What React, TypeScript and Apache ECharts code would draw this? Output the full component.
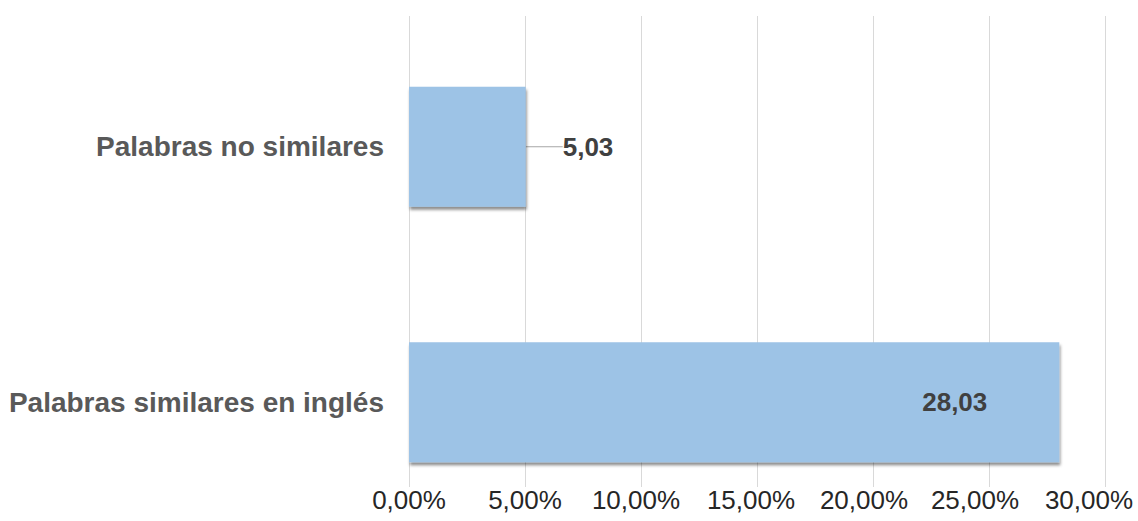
import React, { useEffect, useRef } from "react";
import * as echarts from "echarts";

const categories = ["Palabras no similares", "Palabras similares en inglés"];
const values = [5.03, 28.03];
const axisMin = 0;
const axisMax = 30;
const axisStep = 5;
// Horizontal nudge (px, negative = left) for each tick label along the value axis
const tickLabelShift = [0, 0, -5, -6, -9, -14, -16];

const FONT = "'Liberation Sans', Arial, sans-serif";

const fmtValue = (v: number) => v.toFixed(2).replace(".", ",");
const fmtTick = (v: number) => v.toFixed(2).replace(".", ",") + "%";

export default function App() {
  const ref = useRef<HTMLDivElement | null>(null);

  useEffect(() => {
    if (!ref.current) return;
    const chart = echarts.init(ref.current, null, { renderer: "svg" });

    const barData = values.map((v, i) => {
      if (i === 0) {
        return {
          value: v,
          label: {
            show: true,
            position: "right",
            distance: 4,
            formatter: (p: any) => fmtValue(p.value),
          },
        };
      }
      return {
        value: v,
        label: {
          show: true,
          position: "insideRight",
          distance: 72,
          formatter: (p: any) => fmtValue(p.value),
        },
      };
    });

    const tickText = {
      color: "#262626",
      fontFamily: FONT,
      fontSize: 26,
    };
    const tickRich: Record<string, any> = {};
    tickLabelShift.forEach((s, i) => {
      tickRich["t" + i] = {
        ...tickText,
        padding: s < 0 ? [0, -2 * s, 0, 0] : [0, 0, 0, 2 * s],
      };
    });

    chart.setOption({
      animation: false,
      backgroundColor: "#ffffff",
      grid: [
        { left: 409, right: 33, top: 19, height: 511, outerBoundsMode: "none", containLabel: false },
        { left: 409, right: 33, top: 16, bottom: 34, outerBoundsMode: "none", containLabel: false },
      ],
      xAxis: [
        {
          gridIndex: 0,
          type: "value",
          min: axisMin,
          max: axisMax,
          interval: axisStep,
          show: false,
        },
        {
          gridIndex: 1,
          type: "value",
          min: axisMin,
          max: axisMax,
          interval: axisStep,
          axisLine: { show: false },
          axisTick: { show: false },
          splitLine: { show: true, lineStyle: { color: "#d9d9d9", width: 1 } },
          axisLabel: {
            ...tickText,
            formatter: (v: number) => {
              const idx = Math.round((v - axisMin) / axisStep);
              return "{t" + idx + "|" + fmtTick(v) + "}";
            },
            rich: tickRich,
            margin: 0,
            hideOverlap: false,
          },
        },
      ],
      yAxis: [
        {
          gridIndex: 0,
          type: "category",
          data: categories,
          inverse: true,
          axisLine: { show: false },
          axisTick: { show: false },
          splitLine: { show: false },
          axisLabel: {
            color: "#595959",
            fontFamily: FONT,
            fontWeight: "bold",
            fontSize: 28,
            margin: 25,
          },
        },
        {
          gridIndex: 1,
          type: "value",
          min: 0,
          max: 1,
          show: false,
        },
      ],
      series: [
        {
          type: "bar",
          xAxisIndex: 0,
          yAxisIndex: 0,
          barWidth: 120,
          data: barData,
          itemStyle: {
            color: "#9dc3e6",
            shadowColor: "rgba(0,0,0,0.45)",
            shadowBlur: 3,
            shadowOffsetX: 1,
            shadowOffsetY: 3,
          },
          label: {
            color: "#404040",
            fontFamily: FONT,
            fontWeight: "bold",
            fontSize: 26,
          },
          labelLayout: (params: any) =>
            params.dataIndex === 0 ? { dx: 33 } : {},
          labelLine: {
            show: true,
            lineStyle: { color: "#a6a6a6", width: 1 },
          },
        },
      ],
    });

    return () => chart.dispose();
  }, []);

  return (
    <div
      ref={ref}
      style={{ position: "fixed", left: 0, top: 0, width: 1138, height: 521 }}
    />
  );
}
